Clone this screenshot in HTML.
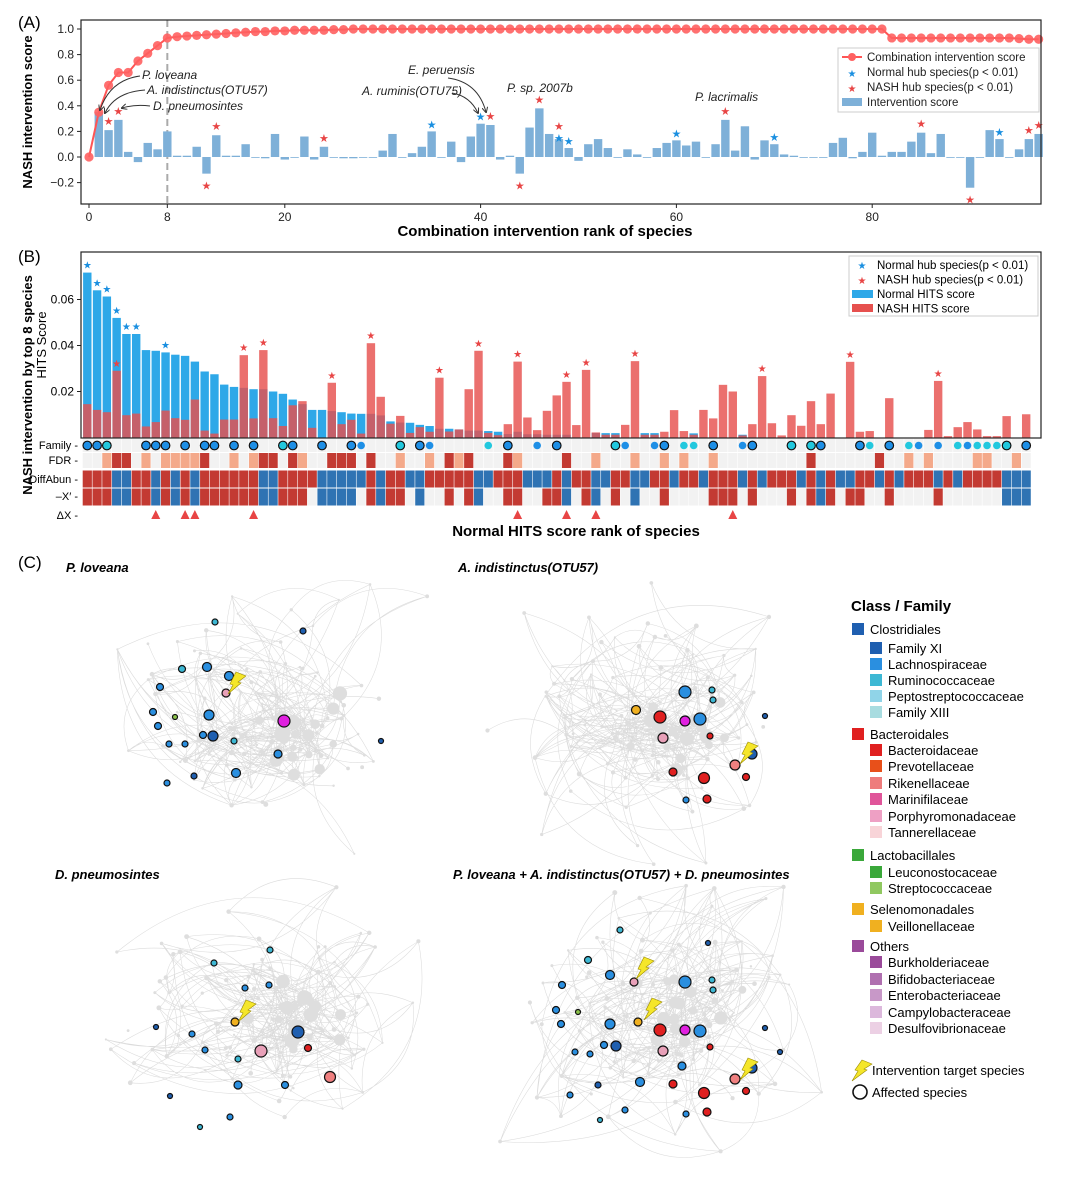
<!DOCTYPE html>
<html><head><meta charset="utf-8"><style>
html,body{margin:0;padding:0;background:#fff;}
svg{display:block;font-family:"Liberation Sans",Arial,sans-serif;}
</style></head><body>
<svg id="fig" width="1080" height="1200" viewBox="0 0 1080 1200" xmlns="http://www.w3.org/2000/svg">
<g id="gA"></g>
<g id="gB"></g>
<g id="gC"></g>
</svg>
<script>
// ===== Panel A data =====
const interventionScore = [0,.35,.21,.29,.04,-.04,.11,.06,.20,.01, .01,.08,-.13,.17,.01,.01,.10,0,-.01,.18, -.02,0,.16,-.02,.08,0,-.01,-.01,0,0, .05,.18,0,.03,.08,.20,0,.12,-.04,.16, .26,.25,-.02,.01,-.13,.23,.38,.18,.14,.07, -.03,.10,.14,.07,0,.06,.02,0,.07,.11, .13,.09,.12,0,.10,.29,.05,.24,-.02,.13, .10,.02,.01,0,0,0,.11,.15,-.01,.04, .19,.01,.04,.04,.12,.19,.03,.18,0,0, -.24,0,.21,.14,0,.06,.14,.18];
const comboScore = [0,.35,.56,.66,.66,.75,.81,.87,.93,.94, .945,.95,.955,.96,.965,.97,.975,.98,.98,.985, .985,.99,.99,.99,.99,.995,.995,1,1,1, 1,1,1,1,1,1,1,1,1,1, 1,1,1,1,1,1,1,1,1,1, 1,1,1,1,1,1,1,1,1,1, 1,1,1,1,1,1,1,1,1,1, 1,1,1,1,1,1,1,1,1,1, 1,1,.93,.93,.93,.93,.93,.93,.93,.93, .93,.93,.93,.93,.93,.925,.92,.92];
const normalHubA = [35,40,48,49,60,70,93];
const nashHubA = [2,3,12,13,24,41,44,46,48,65,85,90,96,97];
const yTicksA = [1.0,0.8,0.6,0.4,0.2,0.0,-0.2];
const xTicksA = [0,8,20,40,60,80];
// ===== Panel B data =====
const normalHits = [.0717,.064,.0613,.052,.045,.045,.038,.0377,.037,.036, .0355,.033,.0287,.0275,.023,.022,.0216,.021,.021,.020, .019,.0165,.0145,.012,.012,.0115,.011,.0104,.0103,.0103, .0096,.007,.0065,.0064,.0055,.005,.0038,.0038,.0035,.003, .003,.0028,.0025,.0015,.0025,.0014,.0014,.0012,.0012,.0012, 0,0,.002,.0019,.0019,0,0,.0019,.0019,0, 0,0,.0018,0,0,0,0,.0012,0,0, 0,0,0,0,0,0,0,0,0,0, 0,0,0,0,0,0,0,0,0,0, 0,0,0,0,0,0,0];
const nashHits = [.0145,.012,.011,.029,.0097,.0104,.0048,.0067,.0117,.0084, .0077,.0165,.003,.0017,.0078,.0078,.0358,.0083,.038,.0084, .005,.014,.0158,.0042,0,.0238,.0058,.0077,.0017,.041, .0177,.006,.0094,.002,.0045,.0025,.026,.0026,.0035,.021, .0377,.002,.001,.0058,.033,.0087,.0032,.0116,.0183,.0242, .0054,.0294,.0022,.0012,.0012,.0055,.0332,.0012,.0012,.0025, .0119,.0028,.0012,.012,.0083,.0229,.02,.0009,.0058,.0267, .0062,.0009,.0097,.0051,.0158,.0058,.0191,0,.0329,.0025, .0028,0,.0171,0,0,0,.0033,.0246,.0006,.0045, .0067,.0035,.0006,.0006,.0093,0,.0101];
const normalHubB = [0,1,2,3,4,5,8];
const nashHubB = [3,16,18,25,29,36,40,44,49,51,56,69,78,87];
const yTicksB = [0.06,0.04,0.02];
const familyRow = {0:'o',1:'o',2:'c',6:'o',7:'o',8:'o',10:'o',12:'o',13:'o',15:'o',17:'o',20:'c',21:'o',24:'o',27:'o',28:'b',32:'c',34:'o',35:'b',41:'y',43:'o',46:'b',48:'o',54:'c',55:'b',58:'b',59:'o',61:'y',62:'y',64:'o',67:'b',68:'o',72:'c',74:'c',75:'o',79:'o',80:'y',82:'o',84:'y',85:'b',87:'b',89:'y',90:'b',91:'y',92:'y',93:'y',94:'c',96:'o'};
const fdrDark = [3,4,12,18,19,21,25,26,27,29,37,39,43,49,74,81];
const fdrLight = [2,6,8,9,10,11,15,17,22,32,35,38,44,52,56,59,61,64,84,86,91,92,95];
const diffAbun = "RRRBBRRBRB"+"RBRRRRRRBB"+"RRRRBBBBBR"+"BRRBBRRRRR"+"BBRRRBBBRB"+"RRBBRRBBRR"+"BRRBRRRBRB"+"RRRBRBRBBR"+"RBRBRRRBRB"+"RRRRBBB";
const xPrime  = "RRRBBRRBRB"+"RBRRRRRRBB"+"RRR0BBBB0R"+"BRR0B00R0R"+"B00RR00RRB"+"0RB0R0B00R"+"0000RRR0R0"+"00R0RBR0RR"+"00R0000R00"+"0000BBB";
const deltaX = [7,10,11,17,44,49,52,66];

const NS="http://www.w3.org/2000/svg";
function mk(parent,tag,attrs,text){const e=document.createElementNS(NS,tag);for(const k in attrs)e.setAttribute(k,attrs[k]);if(text!==undefined)e.textContent=text;parent.appendChild(e);return e;}

// ===== Panel A =====
(function(){
const g=document.getElementById('gA');
const xA=i=>89+9.79*i, yA=v=>157-128*v;
const L=81,R=1041,T=20,B=204;
let t=mk(g,'text',{x:18,y:28,'font-size':17},'(A)');


let dl=mk(g,'line',{x1:xA(8),x2:xA(8),y1:T,y2:B,stroke:'#aaa','stroke-width':2,'stroke-dasharray':'7,4'});


interventionScore.forEach((v,i)=>{
  if(i===0)return;
  const y0=yA(0),y1=yA(v);
  const r=mk(g,'rect',{x:xA(i)-4.2,y:Math.min(y0,y1),width:8.4,height:Math.max(Math.abs(y1-y0),0.8),fill:'#7eb0d8'});
  
  
});
function star(gp,x,y,col,sz,name){const s=mk(gp,'text',{x:x,y:y,'font-size':sz,'text-anchor':'middle',fill:col,'font-family':'DejaVu Sans'},'★');}
normalHubA.forEach(i=>{const v=interventionScore[i];const red=nashHubA.includes(i);star(g,xA(i),(v>=0?yA(v)-3:yA(v)+14)-(red?-6:0),'#1a8fe0',11,'normal-hub-star');});
nashHubA.forEach(i=>{const v=interventionScore[i];const bl=normalHubA.includes(i);star(g,xA(i),v>=0?yA(v)-5-(bl?4:0):yA(v)+16,'#e84545',11,'nash-hub-star');});
let d='';comboScore.forEach((v,i)=>{d+=(i?'L':'M')+xA(i).toFixed(1)+' '+yA(v).toFixed(1);});
let pl=mk(g,'path',{d:d,fill:'none',stroke:'#ff5555','stroke-width':2});


comboScore.forEach((v,i)=>{const c=mk(g,'circle',{cx:xA(i),cy:yA(v),r:4.6,fill:'#ff6161','fill-opacity':0.9});});
let fr=mk(g,'rect',{x:L,y:T,width:R-L,height:B-T,fill:'none',stroke:'#222','stroke-width':1.2});


yTicksA.forEach(v=>{mk(g,'line',{x1:L-4,x2:L,y1:yA(v),y2:yA(v),stroke:'#222'});const tx=mk(g,'text',{x:L-7,y:yA(v)+4,'font-size':12,'text-anchor':'end',fill:'#222'},(v<0?'−':'')+Math.abs(v).toFixed(1));});
xTicksA.forEach(v=>{mk(g,'line',{x1:xA(v),x2:xA(v),y1:B,y2:B+4,stroke:'#222'});const tx=mk(g,'text',{x:xA(v),y:B+17,'font-size':12,'text-anchor':'middle',fill:'#222'},v);});
let yl=mk(g,'text',{x:0,y:0,'font-size':13,'font-weight':'bold','text-anchor':'middle',transform:'translate(32,112) rotate(-90)'},'NASH intervention score');


let xl=mk(g,'text',{x:545,y:236,'font-size':15,'font-weight':'bold','text-anchor':'middle'},'Combination intervention rank of species');


const ann=[['P. loveana',142,79],['A. indistinctus(OTU57)',147,94],['D. pneumosintes',153,110],['E. peruensis',408,74],['A. ruminis(OTU75)',362,95],['P. sp. 2007b',507,92],['P. lacrimalis',695,101]];
ann.forEach(a=>{const tx=mk(g,'text',{x:a[1],y:a[2],'font-size':12,'font-style':'italic',fill:'#222'},a[0]);});
const arrows=['M140 76 Q110 80 100 110','M145 90 Q115 92 105 113','M150 106 Q135 104 122 108','M448 78 Q478 82 486 112','M452 93 Q470 96 478 113'];
mk(g,'defs',{}).innerHTML='<marker id="ah" markerWidth="6" markerHeight="6" refX="5" refY="3" orient="auto"><path d="M0,0 L6,3 L0,6" fill="none" stroke="#333"/></marker>';
arrows.forEach(p=>{const a=mk(g,'path',{d:p,fill:'none',stroke:'#333','stroke-width':1,'marker-end':'url(#ah)'});});
const lg=mk(g,'g',{});
mk(lg,'rect',{x:838,y:48,width:201,height:64,fill:'#fff',stroke:'#ccc'});
mk(lg,'line',{x1:842,x2:862,y1:57,y2:57,stroke:'#ff5555','stroke-width':2});mk(lg,'circle',{cx:852,cy:57,r:4,fill:'#ff6161'});
star(lg,852,77,'#1a8fe0',10,'legend-normal-star');star(lg,852,92,'#e84545',10,'legend-nash-star');
mk(lg,'rect',{x:842,y:98,width:20,height:8,fill:'#7eb0d8'});
['Combination intervention score','Normal hub species(p < 0.01)','NASH hub species(p < 0.01)','Intervention score'].forEach((s,k)=>{const tx=mk(lg,'text',{x:867,y:61+k*15,'font-size':11.5,fill:'#222'},s);});
})();

// ===== Panel B =====
(function(){
const g=document.getElementById('gB');
const xB=i=>87.3+9.78*i, yB=v=>437.5-2300*v;
const L=81,R=1041,T=252,B=438;
let t=mk(g,'text',{x:18,y:262,'font-size':17},'(B)');


normalHits.forEach((v,i)=>{if(v<=0)return;const r=mk(g,'rect',{x:xB(i)-4.2,y:yB(v),width:8.4,height:yB(0)-yB(v),fill:'#2ea8e8'});});
nashHits.forEach((v,i)=>{if(v<=0)return;const r=mk(g,'rect',{x:xB(i)-4.2,y:yB(v),width:8.4,height:yB(0)-yB(v),fill:'#e6504e','fill-opacity':0.82});});
function star(x,y,col,name){const s=mk(g,'text',{x:x,y:y,'font-size':10,'text-anchor':'middle',fill:col,'font-family':'DejaVu Sans'},'★');}
normalHubB.forEach(i=>star(xB(i),yB(normalHits[i])-4,'#1a8fe0','normal-hub-star'));
nashHubB.forEach(i=>star(xB(i),yB(nashHits[i])-4,'#e84545','nash-hub-star'));
let fr=mk(g,'rect',{x:L,y:T,width:R-L,height:B-T,fill:'none',stroke:'#222','stroke-width':1.2});


yTicksB.forEach(v=>{mk(g,'line',{x1:L-4,x2:L,y1:yB(v),y2:yB(v),stroke:'#222'});const tx=mk(g,'text',{x:L-7,y:yB(v)+4,'font-size':12,'text-anchor':'end'},v.toFixed(2));});
const rows=[['Family',445],['FDR',460],['DiffAbun',479],['X′',496],['ΔX',515]];
rows.forEach(r=>{const tx=mk(g,'text',{x:78,y:r[1]+4,'font-size':11,'text-anchor':'end'},(r[0]==='X′'?'–X′':r[0])+' -');});
for(let i=0;i<97;i++){
  const x=xB(i)-4.6;
  mk(g,'rect',{x:x,y:439,width:9.2,height:13,fill:'#f2f2f2'});
  const fc=fdrDark.includes(i)?'#c33a32':(fdrLight.includes(i)?'#f4a98a':'#f2f2f2');
  const c1=mk(g,'rect',{x:x,y:453,width:9.2,height:15,fill:fc});
  const dc=diffAbun[i]==='R'?'#c33a32':'#2f73b3';
  const c2=mk(g,'rect',{x:x,y:470.5,width:9.2,height:17,fill:dc});
  const xc=xPrime[i]==='R'?'#c33a32':(xPrime[i]==='B'?'#2f73b3':'#f2f2f2');
  const c3=mk(g,'rect',{x:x,y:488.5,width:9.2,height:17,fill:xc});
  const f=familyRow[i];
  if(f){const fill=(f==='o'||f==='b')?'#1e8fe6':'#22c8de';const outl=(f==='o'||f==='c');
    const cc=mk(g,'circle',{cx:xB(i),cy:445.5,r:outl?4.3:3.8,fill:fill,stroke:outl?'#111':'none','stroke-width':1.2});}
}
deltaX.forEach(i=>{const x=xB(i);const p=mk(g,'path',{d:`M${x-4.5} 519 L${x+4.5} 519 L${x} 510 Z`,fill:'#e84545'});});
let y1=mk(g,'text',{x:0,y:0,'font-size':13,'font-weight':'bold','text-anchor':'middle',transform:'translate(32,385) rotate(-90)'},'NASH intervention by top 8 species');

let y2=mk(g,'text',{x:0,y:0,'font-size':13,'text-anchor':'middle',transform:'translate(46,345) rotate(-90)'},'HITS Score');

let xl=mk(g,'text',{x:576,y:536,'font-size':15,'font-weight':'bold','text-anchor':'middle'},'Normal HITS score rank of species');

const lg=mk(g,'g',{});
mk(lg,'rect',{x:849,y:256,width:189,height:60,fill:'#fff',stroke:'#ccc'});
star(862,269,'#1a8fe0','legend-normal-star');star(862,284,'#e84545','legend-nash-star');
mk(lg,'rect',{x:852,y:290,width:21,height:8,fill:'#2ea8e8'});mk(lg,'rect',{x:852,y:304,width:21,height:8,fill:'#e6504e'});
['Normal hub species(p < 0.01)','NASH hub species(p < 0.01)','Normal HITS score','NASH HITS score'].forEach((s,k)=>{const tx=mk(lg,'text',{x:877,y:269+k*14.5,'font-size':11.5},s);});
})();

// ===== Panel C =====
(function(){
const g=document.getElementById('gC');
let t=mk(g,'text',{x:18,y:568,'font-size':17},'(C)');

let seed=7;function rnd(){seed=(seed*16807)%2147483647;return seed/2147483647;}
function gauss(){return (rnd()+rnd()+rnd()-1.5)/0.9;}
const C={db:'#1f5fb0',bl:'#2a8fe0',cy:'#3db8d4',pk:'#e8a0b8',rd:'#e02020',og:'#f0b020',mg:'#e020e0',gr:'#8bc34a',sr:'#f08080'};
const nets=[
 {cx:265,cy:722,title:'P. loveana',tx:66,ty:572,name:'network-p-loveana',
  bolts:[[230,682]],
  nodes:[[215,622,'cy',3],[303,631,'db',3],[182,669,'cy',3.5],[207,667,'bl',4.5],[229,676,'bl',4.5],[226,693,'pk',4],[160,687,'bl',3.5],[153,712,'bl',3.5],[175,717,'gr',2.5],[158,726,'bl',3.5],[209,715,'bl',5],[203,735,'bl',3.5],[213,736,'db',5],[234,741,'cy',3],[169,744,'bl',3],[185,744,'bl',3],[284,721,'mg',6],[278,754,'bl',4],[236,773,'bl',4.5],[194,776,'db',3],[167,783,'bl',3],[381,741,'db',2.5]]},
 {cx:655,cy:722,title:'A. indistinctus(OTU57)',tx:458,ty:572,name:'network-a-indistinctus',
  bolts:[[742,752]],
  nodes:[[685,692,'bl',6],[712,690,'cy',3],[713,700,'cy',3],[636,710,'og',4.5],[660,717,'rd',6],[685,721,'mg',5],[700,719,'bl',6],[663,738,'pk',5],[710,736,'rd',3],[752,754,'db',5],[735,765,'sr',5],[746,777,'rd',3.5],[673,772,'rd',4],[704,778,'rd',5.5],[707,799,'rd',4],[686,800,'bl',3],[765,716,'db',2.5]]},
 {cx:265,cy:1012,title:'D. pneumosintes',tx:55,ty:879,name:'network-d-pneumosintes',
  bolts:[[240,1010]],
  nodes:[[235,1022,'og',4],[214,963,'cy',3],[270,950,'cy',3],[269,985,'bl',3],[245,988,'bl',3],[298,1032,'db',6],[308,1048,'rd',3.5],[261,1051,'pk',6],[330,1077,'sr',5.5],[156,1027,'db',2.5],[192,1034,'bl',3],[205,1050,'bl',3],[238,1059,'cy',3],[238,1085,'bl',4],[285,1085,'bl',3.5],[170,1096,'db',2.5],[230,1117,'bl',3],[200,1127,'cy',2.5]]},
 {cx:655,cy:1012,title:'P. loveana + A. indistinctus(OTU57) + D. pneumosintes',tx:453,ty:879,name:'network-combined',
  bolts:[[638,967],[646,1008],[742,1068]],
  nodes:[[634,982,'pk',4],[638,1022,'og',4],[685,982,'bl',6],[712,980,'cy',3],[713,990,'cy',3],[660,1030,'rd',6],[685,1030,'mg',5],[700,1031,'bl',6],[663,1051,'pk',5],[710,1047,'rd',3],[752,1068,'db',5],[735,1079,'sr',5],[746,1091,'rd',3.5],[673,1084,'rd',4],[704,1093,'rd',5.5],[707,1112,'rd',4],[686,1114,'bl',3],[765,1028,'db',2.5],[620,930,'cy',3],[708,943,'db',2.5],[588,960,'cy',3.5],[610,975,'bl',4.5],[562,985,'bl',3.5],[556,1010,'bl',3.5],[578,1012,'gr',2.5],[561,1024,'bl',3.5],[610,1024,'bl',5],[604,1045,'bl',3.5],[616,1046,'db',5],[575,1052,'bl',3],[590,1054,'bl',3],[682,1066,'bl',4],[640,1082,'bl',4.5],[598,1085,'db',3],[570,1095,'bl',3],[780,1052,'db',2.5],[625,1110,'bl',3],[600,1120,'cy',2.5]]}
];
nets.forEach((n,ni)=>{
  const gg=mk(g,'g',{});
  const tt=mk(gg,'text',{x:n.tx,y:n.ty,'font-size':13,'font-weight':'bold','font-style':'italic'},n.title);
  
  seed=101+ni*7;
  const pts=[];
  for(let k=0;k<100;k++){pts.push([n.cx+gauss()*110,n.cy+gauss()*100]);}
  for(let k=0;k<20;k++){pts.push([n.cx+30+gauss()*45,n.cy+10+gauss()*40]);}
  const eg=mk(gg,'g',{stroke:'#cfcfcf','stroke-width':0.55,fill:'none','stroke-opacity':0.75});
  let dd='';
  for(let k=0;k<230;k++){const a=pts[Math.floor(rnd()*pts.length)],b=pts[Math.floor(rnd()*pts.length)];
    const mx=(a[0]+b[0])/2,my=(a[1]+b[1])/2,dx=b[0]-a[0],dy=b[1]-a[1];const c=0.35;
    dd+=`M${a[0].toFixed(1)} ${a[1].toFixed(1)}Q${(mx-dy*c).toFixed(1)} ${(my+dx*c).toFixed(1)} ${b[0].toFixed(1)} ${b[1].toFixed(1)}`;}
  mk(eg,'path',{d:dd});
  pts.forEach((p,k)=>{mk(gg,'circle',{cx:p[0],cy:p[1],r:k>=100?3+rnd()*4.5:1+rnd()*1.5,fill:'#dedede'});});
  n.nodes.forEach(q=>{const c=mk(gg,'circle',{cx:q[0],cy:q[1],r:q[3],fill:C[q[2]],stroke:'#111','stroke-width':1.2});});
  n.bolts.forEach(b=>{const p=mk(gg,'path',{d:`M${b[0]+6} ${b[1]-10} L${b[0]+16} ${b[1]-6} L${b[0]+8} ${b[1]} L${b[0]+11} ${b[1]+1} L${b[0]-2} ${b[1]+12} L${b[0]+3} ${b[1]+3} L${b[0]} ${b[1]+2} Z`,fill:'#f5e62a',stroke:'#9a8a00','stroke-width':0.6});});
});
const lg=mk(g,'g',{});
const lt=mk(lg,'text',{x:851,y:611,'font-size':15,'font-weight':'bold'},'Class / Family');

const items=[[0,629,'Clostridiales','#1f5fb0'],[1,648,'Family XI','#1f5fb0'],[1,664,'Lachnospiraceae','#2a8fe0'],[1,680,'Ruminococcaceae','#3db8d4'],[1,696,'Peptostreptococcaceae','#90d4e8'],[1,712,'Family XIII','#a8dce0'],
[0,734,'Bacteroidales','#e02020'],[1,750,'Bacteroidaceae','#e02020'],[1,766,'Prevotellaceae','#e8501a'],[1,783,'Rikenellaceae','#ee7c7c'],[1,799,'Marinifilaceae','#e0559a'],[1,816,'Porphyromonadaceae','#eea0c4'],[1,832,'Tannerellaceae','#f8d4d8'],
[0,855,'Lactobacillales','#3aa83a'],[1,872,'Leuconostocaceae','#3aa83a'],[1,888,'Streptococcaceae','#90c860'],
[0,909,'Selenomonadales','#f0b020'],[1,926,'Veillonellaceae','#f0b020'],
[0,946,'Others','#9a4a9a'],[1,962,'Burkholderiaceae','#9a4a9a'],[1,979,'Bifidobacteriaceae','#b070b0'],[1,995,'Enterobacteriaceae','#c898c8'],[1,1012,'Campylobacteraceae','#dcb8dc'],[1,1028,'Desulfovibrionaceae','#ecd0e4']];
items.forEach(it=>{const x=it[0]?870:852;mk(lg,'rect',{x:x,y:it[1]-6,width:12,height:12,fill:it[3]});
  const tx=mk(lg,'text',{x:x+18,y:it[1]+5,'font-size':13},it[2]);});
mk(lg,'path',{d:'M862 1060 L872 1064 L864 1069 L867 1070 L852 1081 L858 1071 L855 1070 Z',fill:'#f5e62a',stroke:'#9a8a00','stroke-width':0.6});
const e1=mk(lg,'text',{x:872,y:1075,'font-size':13},'Intervention target species');
mk(lg,'circle',{cx:860,cy:1092,r:7,fill:'none',stroke:'#111','stroke-width':1.6});
const e2=mk(lg,'text',{x:872,y:1097,'font-size':13},'Affected species');
})();
</script>
</body></html>
